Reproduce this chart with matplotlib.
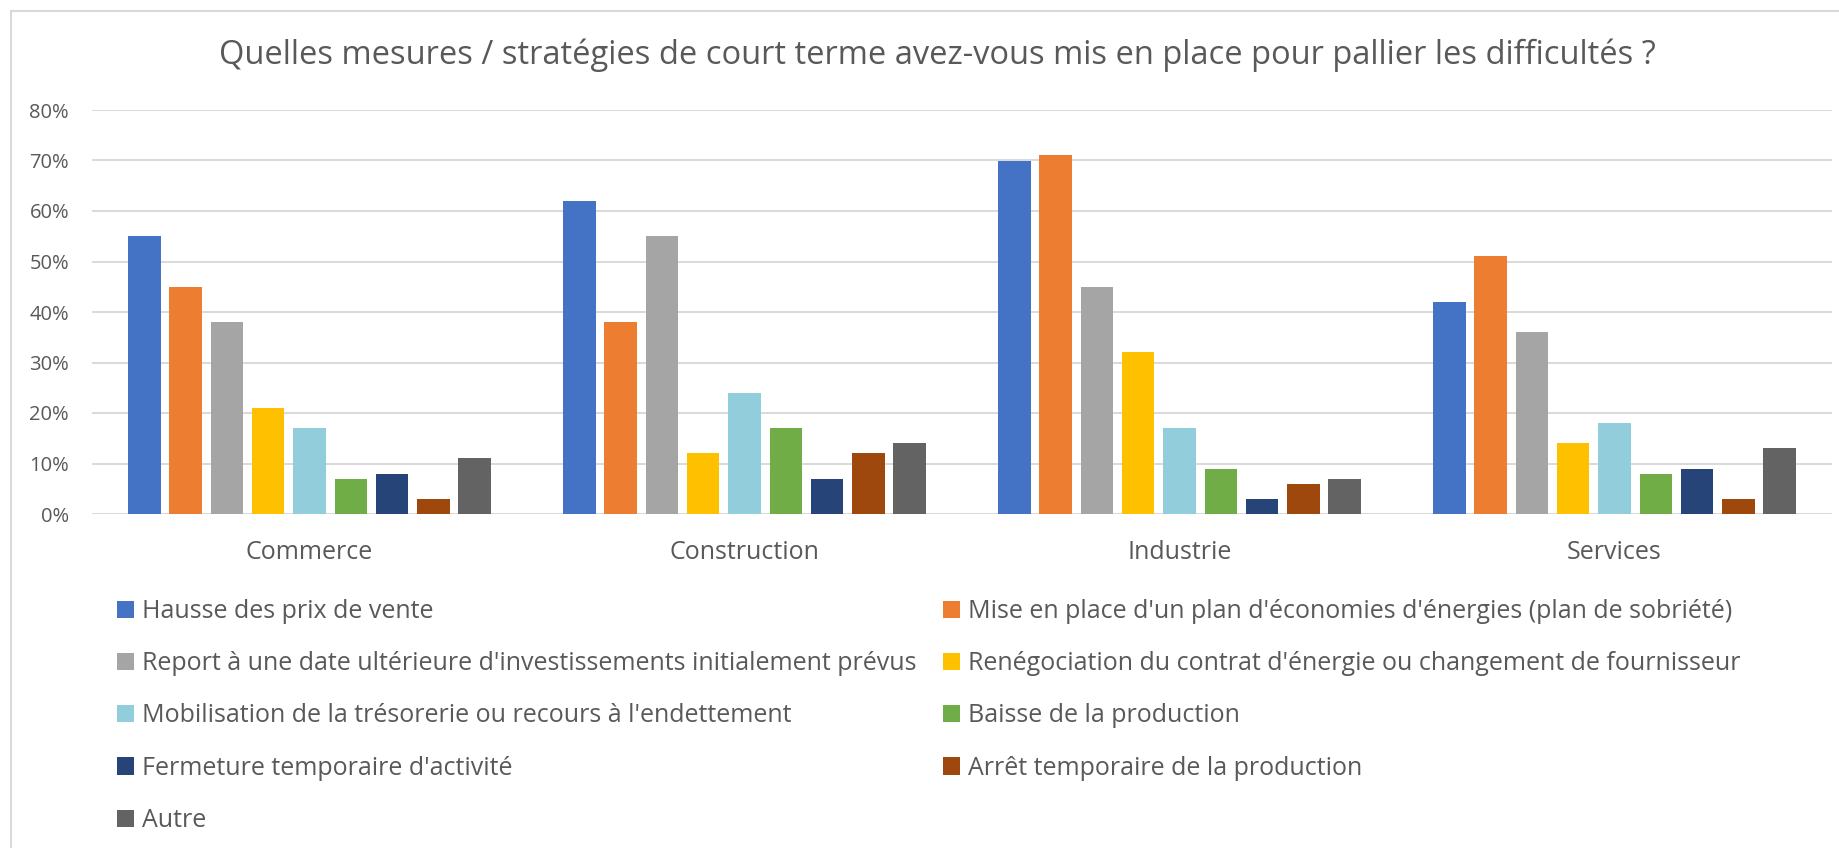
import numpy as np
import matplotlib
matplotlib.use("Agg")
import matplotlib.pyplot as plt
from matplotlib.patches import Patch, Rectangle

plt.rcParams["font.family"] = ["Open Sans", "DejaVu Sans"]

TEXT = "#595959"
GRID = "#D9D9D9"

categories = ["Commerce", "Construction", "Industrie", "Services"]
series = [
    "Hausse des prix de vente",
    "Mise en place d'un plan d'économies d'énergies (plan de sobriété)",
    "Report à une date ultérieure d'investissements initialement prévus",
    "Renégociation du contrat d'énergie ou changement de fournisseur",
    "Mobilisation de la trésorerie ou recours à l'endettement",
    "Baisse de la production",
    "Fermeture temporaire d'activité",
    "Arrêt temporaire de la production",
    "Autre",
]
colors = ["#4472C4", "#ED7D31", "#A5A5A5", "#FFC000", "#92CDDC",
          "#70AD47", "#264478", "#9E480E", "#636363"]

# percentages, one list per series (Commerce, Construction, Industrie, Services)
hausse_prix = [55, 62, 70, 42]
plan_sobriete = [45, 38, 71, 51]
report_invest = [38, 55, 45, 36]
renegociation = [21, 12, 32, 14]
tresorerie = [17, 24, 17, 18]
baisse_prod = [7, 17, 9, 8]
fermeture = [8, 7, 3, 9]
arret_prod = [3, 12, 6, 3]
autre = [11, 14, 7, 13]

values = [hausse_prix, plan_sobriete, report_invest, renegociation,
          tresorerie, baisse_prod, fermeture, arret_prod, autre]

fig = plt.figure(figsize=(18.39, 8.48), dpi=100)
ax = fig.add_axes([92 / 1839, 1 - 514 / 848, 1740 / 1839, 404 / 848])

x = np.arange(len(categories))
pitch = 0.0949
width = 0.0743
handles = []
for i, (name, vals, col) in enumerate(zip(series, values, colors)):
    ax.bar(x + (i - 4) * pitch, np.array(vals) / 100, width, color=col,
           zorder=3)
    handles.append(Patch(facecolor=col, label=name))

ax.set_xlim(-0.5, 3.5)
ax.set_ylim(0, 0.8)
ax.set_yticks(np.arange(0, 0.81, 0.1))
ax.set_yticklabels([f"{int(round(v * 100))}%" for v in np.arange(0, 0.81, 0.1)])
ax.set_xticks(x)
ax.set_xticklabels(categories)
ax.tick_params(axis="y", length=0, pad=16.5, labelsize=14.5, labelcolor=TEXT)
ax.tick_params(axis="x", length=0, pad=18.5, labelsize=18, labelcolor=TEXT)
ax.grid(axis="y", color=GRID, linewidth=1.4, zorder=0)
for s in ax.spines.values():
    s.set_visible(False)

fig.text(937 / 1839, 1 - 55 / 848,
         "Quelles mesures / stratégies de court terme avez-vous mis en place pour pallier les difficultés ?",
         ha="center", va="center", fontsize=23.5, color=TEXT)

# legend laid out row by row like the original
order = [0, 2, 4, 6, 8, 1, 3, 5, 7]
leg = fig.legend([handles[k] for k in order], [series[k] for k in order],
                 ncol=2, loc="upper left", bbox_to_anchor=(117 / 1839, 1 - 599 / 848),
                 frameon=False, fontsize=18, labelcolor=TEXT,
                 handlelength=0.68, handleheight=0.68, handletextpad=0.32,
                 labelspacing=1.09, columnspacing=1.04, borderpad=0, borderaxespad=0)

# light chart border, clipped at right and bottom like the screenshot
fig.patches.append(Rectangle((11 / 1839, -0.2), 1.2, 1.2 - 10.7 / 848,
                             transform=fig.transFigure, fill=False,
                             edgecolor=GRID, linewidth=1.5))

fig.savefig("out.png", dpi=100)
